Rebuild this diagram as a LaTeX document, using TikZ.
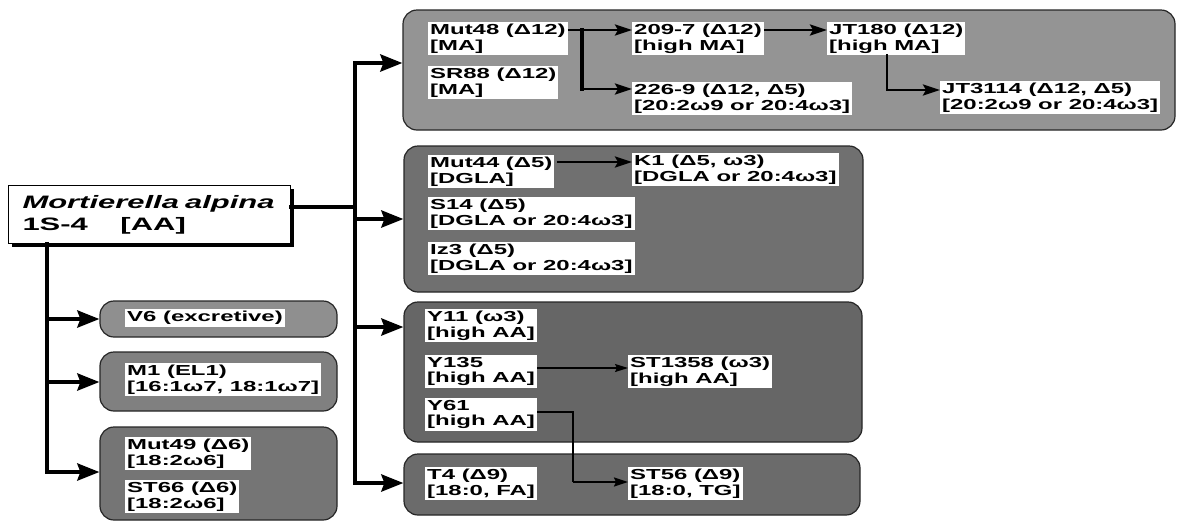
\documentclass[tikz,border=0pt]{standalone}
\usepackage{fontspec}
\setmainfont{Liberation Sans}
\newfontfamily\lblfont[FakeStretch=1.65]{Liberation Sans}
\newfontfamily\ttlfont[FakeStretch=1.72]{Liberation Sans}
\usetikzlibrary{arrows.meta,fit,calc}
\definecolor{gA}{gray}{0.58}
\definecolor{gB}{gray}{0.44}
\definecolor{gC}{gray}{0.40}
\definecolor{gD}{gray}{0.42}
\definecolor{gV}{gray}{0.56}
\definecolor{gM}{gray}{0.50}
\definecolor{gE}{gray}{0.46}
\begin{document}
\begin{tikzpicture}[x=1pt,y=-1pt,
  lbl/.style={fill=white, inner xsep=2pt, inner ysep=2pt, anchor=north west, align=left,
    font=\lblfont\bfseries\fontsize{14.5}{15.6}\selectfont},
  grp/.style={draw=black!85, line width=1.2pt, rounded corners=14pt, inner sep=0pt},
  tk/.style={line width=4.5pt, line cap=rect},
  tarr/.style={line width=4pt, -{Stealth[length=22pt,width=17pt,inset=3pt]}},
  iarr/.style={line width=2.8pt, -{Stealth[length=17pt,width=11pt,inset=3pt]}},
  sarr/.style={line width=1.3pt, -{Stealth[length=13pt,width=8pt,inset=2pt]}},
  marr/.style={line width=2pt, -{Stealth[length=14pt,width=9pt,inset=2pt]}}
]
\useasboundingbox (0,0) rectangle (1178,523);

% groups
\node[grp, fill=gA, fit={(403,10) (1175,130)}] (G1) {};
\node[grp, fill=gB, fit={(404,146) (863,292)}] (G2) {};
\node[grp, fill=gC, fit={(404,302) (862,442)}] (G3) {};
\node[grp, fill=gD, fit={(404,454) (860,515)}] (G4) {};
\node[grp, fill=gV, fit={(100,301) (337,337)}] (V6) {};
\node[grp, fill=gM, fit={(100,352) (337,411)}] (M1) {};
\node[grp, fill=gE, fit={(100,427) (337,520)}] (G7) {};

% main box
\node[draw, line width=1pt, fill=white, anchor=north west, minimum width=282pt, minimum height=58pt,
  inner xsep=13pt, text width=254pt, align=left, font=\ttlfont\bfseries\fontsize{18}{22}\selectfont]
  (M) at (8,185) {\makebox[254pt][l]{\itshape Mortierella alpina}\\{\makebox[98pt][l]{1S-4}[AA]}};
\draw[line width=3pt] ($(M.north east)+(1.5,4)$) -- ($(M.south east)+(1.5,1.5)$) -- ($(M.south west)+(4,1.5)$);

% labels: group 1
\node[lbl, minimum width=135pt] (Mut48) at (428,22) {Mut48 (Δ12)\\{[MA]}};
\node[lbl, minimum width=122pt] (SR88) at (428,66) {SR88 (Δ12)\\{[MA]}};
\node[lbl] (n2097) at (632,22) {209-7 (Δ12)\\{[high MA]}};
\node[lbl] (n2269) at (632,82) {226-9 (Δ12, Δ5)\\{[20:2ω9 or 20:4ω3]}};
\node[lbl] (JT180) at (827,22) {JT180 (Δ12)\\{[high MA]}};
\node[lbl] (JT3114) at (940,81) {JT3114 (Δ12, Δ5)\\{[20:2ω9 or 20:4ω3]}};
% group 2
\node[lbl] (Mut44) at (428,155) {Mut44 (Δ5)\\{[DGLA]}};
\node[lbl] (K1) at (632,153) {K1 (Δ5, ω3)\\{[DGLA or 20:4ω3]}};
\node[lbl] (S14) at (428,197) {S14 (Δ5)\\{[DGLA or 20:4ω3]}};
\node[lbl] (Iz3) at (428,242) {Iz3 (Δ5)\\{[DGLA or 20:4ω3]}};
% group 3
\node[lbl, minimum width=108pt] (Y11) at (425,309) {Y11 (ω3)\\{[high AA]}};
\node[lbl, minimum width=108pt] (Y135) at (425,355) {Y135\\{[high AA]}};
\node[lbl, minimum width=108pt] (Y61) at (425,398) {Y61\\{[high AA]}};
\node[lbl, minimum width=135pt] (ST1358) at (628,355) {ST1358 (ω3)\\{[high AA]}};
% group 4
\node[lbl, minimum width=110pt] (T4) at (425,467) {T4 (Δ9)\\{[18:0, FA]}};
\node[lbl] (ST56) at (628,467) {ST56 (Δ9)\\{[18:0, TG]}};
% left
\node[lbl] (V6t) at (125,309) {V6 (excretive)};
\node[lbl] (M1t) at (125,363) {M1 (EL1)\\{[16:1ω7, 18:1ω7]}};
\node[lbl] (Mut49) at (125,437) {Mut49 (Δ6)\\{[18:2ω6]}};
\node[lbl] (ST66) at (125,480) {ST66 (Δ6)\\{[18:2ω6]}};

% right trunk
\coordinate (tr0) at (355,207);
\coordinate (r1) at (355,63);
\coordinate (r2) at (355,219);
\coordinate (r3) at (355,327);
\coordinate (r4) at (355,483);
\draw[tk] (M.east |- tr0) -- (tr0);
\draw[tk] (r1) -- (r4);
\draw[tarr] (r1) -- (r1 -| G1.west);
\draw[tarr] (r2) -- (r2 -| G2.west);
\draw[tarr] (r3) -- (r3 -| G3.west);
\draw[tarr] (r4) -- (r4 -| G4.west);

% left trunk
\coordinate (l1) at (47,319);
\coordinate (l2) at (47,382);
\coordinate (l3) at (47,472);
\draw[tk] (M.south -| l3) -- (l3);
\draw[tarr] (l1) -- (l1 -| V6.west);
\draw[tarr] (l2) -- (l2 -| M1.west);
\draw[tarr] (l3) -- (l3 -| G7.west);

% group 1 connectors
\coordinate (b1) at (582,30);
\coordinate (b2) at (582,89);
\draw[line width=2.8pt] (Mut48.east |- b1) -- (b1);
\draw[iarr] (b1) -- (b1 -| n2097.west);
\draw[line width=3.5pt, line cap=rect] (b1) -- (b2);
\draw[iarr] (b2) -- (b2 -| n2269.west);
\draw[iarr] (n2097.east |- b1) -- (b1 -| JT180.west);
\coordinate (b3) at (887,90);
\draw[line width=2.8pt, line cap=rect] (JT180.south -| b3) -- (b3);
\draw[iarr] (b3) -- (b3 -| JT3114.west);

% group 2 connector
\coordinate (c1) at (557,162);
\draw[iarr] (c1) -- (c1 -| K1.west);

% group 3/4 connectors
\coordinate (d1) at (540,368);
\draw[sarr] (Y135.east |- d1) -- (d1 -| ST1358.west);
\coordinate (e1) at (573,412);
\coordinate (e2) at (573,482);
\draw[line width=2pt] (Y61.east |- e1) -- (e1) -- (e2);
\draw[marr] (e2) -- (e2 -| ST56.west);
\end{tikzpicture}
\end{document}
